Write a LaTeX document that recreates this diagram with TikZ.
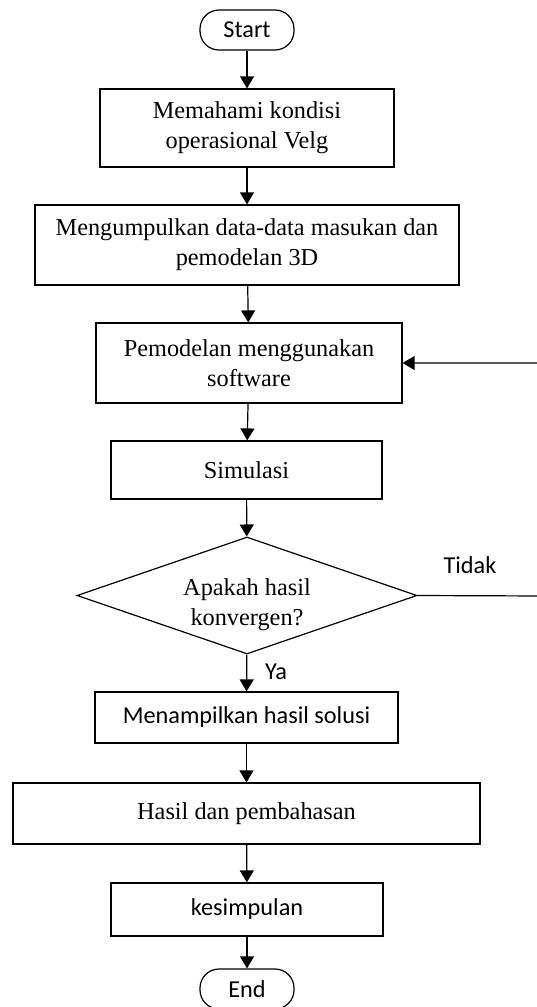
\documentclass[tikz,border=0pt]{standalone}
\usepackage{fontspec}
\setmainfont{Liberation Serif}
\newfontfamily\calib{Carlito}
\usepackage{tikz}
\usetikzlibrary{arrows.meta}
\usetikzlibrary{shapes.geometric}

\tikzset{
  box/.style={draw=black, line width=1.2pt, inner sep=0pt, align=center,
    font=\fontsize{24.3}{30}\selectfont},
  term/.style={box, rounded corners=19pt, font=\calib\fontsize{24.3}{28}\selectfont},
  lbl/.style={font=\calib\fontsize{24.3}{28}\selectfont},
  flow/.style={line width=1.2pt, -{Triangle[length=12pt,width=14pt]}}
}

\begin{document}
\begin{tikzpicture}[x=1pt, y=-1pt]
    \useasboundingbox (0,0) rectangle (536,1007);
    \node[term, minimum width=94pt, minimum height=40pt] (A) at (247,30) {Start};
    \node[box, minimum width=294pt, minimum height=78pt] (B) at (247,128) {Memahami kondisi\\operasional Velg};
    \node[box, minimum width=424pt, minimum height=80pt] (C) at (247,245) {Mengumpulkan data-data masukan dan\\pemodelan 3D};
    \node[box, minimum width=306pt, minimum height=80pt] (D) at (249,363) {Pemodelan menggunakan\\software};
    \node[box, minimum width=271pt, minimum height=58pt] (E) at (246.5,470) {Simulasi};
    \node[box, diamond, aspect=2.9, minimum width=340pt, minimum height=117pt] (F) at (247,595.5) {};
    \node[font=\fontsize{24.3}{30}\selectfont, align=center] (Ft) at (247,605) {Apakah hasil\\konvergen?};
    \node[box, font=\calib\fontsize{24.3}{28}\selectfont, minimum width=303pt, minimum height=51pt] (G) at (246.5,717.5) {Menampilkan hasil solusi};
    \node[box, minimum width=467pt, minimum height=61pt] (H) at (246.5,813.5) {Hasil dan pembahasan};
    \node[box, font=\calib\fontsize{24.3}{28}\selectfont, minimum width=272pt, minimum height=53pt] (I) at (247,909.5) {kesimpulan};
    \node[term, minimum width=94pt, minimum height=40pt] (J) at (247,989) {End};
    \node[lbl] (ya) at (276,672) {Ya};
    \node[lbl] (tidak) at (470,565) {Tidak};
    \coordinate (back) at (546,596);
    \path [flow] (A) edge (B);
    \path [flow] (B) edge (C);
    \path [flow] (C) edge (D);
    \path [flow] (D) edge (E);
    \path [flow] (E) edge (F);
    \path [flow] (F) edge (G);
    \path [flow] (G) edge (H);
    \path [flow] (H) edge (I);
    \path [flow] (I) edge (J);
    \draw [flow] (F.east) -- (back) |- (D.east);
  \end{tikzpicture}
\end{document}
